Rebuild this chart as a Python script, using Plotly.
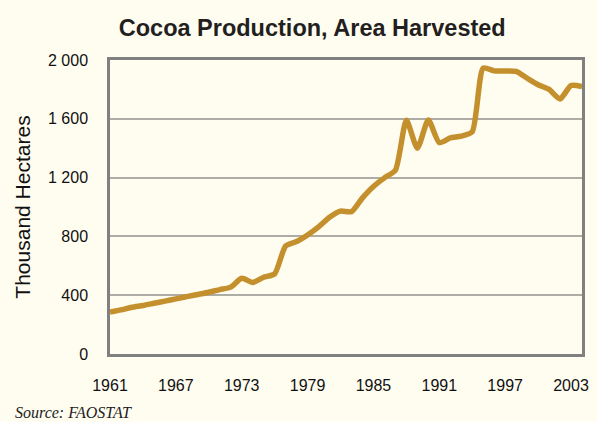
import plotly.graph_objects as go

# Cocoa area harvested, thousand hectares (FAOSTAT)
years = list(range(1961, 2005))
area_kha = [
    285, 300, 318, 330, 345, 360, 375, 390, 405, 420,
    438, 455, 515, 487, 522, 545, 735, 765, 810, 865,
    930, 972, 968, 1062, 1140, 1198, 1250, 1590, 1400, 1592,
    1438, 1470, 1482, 1512, 1945, 1926, 1925, 1922, 1876, 1832,
    1800, 1735, 1826, 1820,
]

y_tick_vals = [0, 400, 800, 1200, 1600, 2000]
y_tick_text = ["0", "400", "800", "1 200", "1 600", "2 000"]
x_tick_vals = [1961, 1967, 1973, 1979, 1985, 1991, 1997, 2003]

BG = "#FFFDF0"
LINE = "#C4902E"
GRID = "#AEADA5"
FRAME = "#808080"
SANS = "Arial"

fig = go.Figure(
    go.Scatter(
        x=years,
        y=area_kha,
        mode="lines",
        line=dict(color=LINE, width=5.5, shape="spline", smoothing=0.6),
        hoverinfo="x+y",
    )
)

fig.update_layout(
    width=597,
    height=422,
    paper_bgcolor=BG,
    plot_bgcolor=BG,
    margin=dict(l=110, r=8, t=60, b=68),
    showlegend=False,
    font=dict(family=SANS, color="#222222"),
    title=dict(
        text="<b>Cocoa Production, Area Harvested</b>",
        x=0.523,
        xanchor="center",
        y=0.935,
        yanchor="middle",
        font=dict(family=SANS, size=23.5, color="#231F20"),
    ),
    xaxis=dict(
        range=[1961, 2004],
        tickvals=x_tick_vals,
        ticks="",
        ticklabelstandoff=15,
        tickfont=dict(family=SANS, size=16, color="#111111"),
        showgrid=False,
        zeroline=False,
        showline=True,
        linecolor=FRAME,
        linewidth=2.5,
        mirror=True,
    ),
    yaxis=dict(
        range=[0, 2000],
        tickvals=y_tick_vals,
        ticktext=y_tick_text,
        ticks="",
        ticklabelstandoff=16,
        tickfont=dict(family=SANS, size=16, color="#111111"),
        showgrid=True,
        gridcolor=GRID,
        gridwidth=1.5,
        zeroline=False,
        showline=True,
        linecolor=FRAME,
        linewidth=2.5,
        mirror=True,
        title=dict(
            text="Thousand Hectares",
            font=dict(family=SANS, size=21, color="#111111"),
            standoff=12,
        ),
    ),
)

fig.add_annotation(
    text="<i>Source: FAOSTAT</i>",
    xref="paper",
    yref="paper",
    x=-0.205,
    y=-0.2,
    xanchor="left",
    yanchor="middle",
    showarrow=False,
    font=dict(family="Times New Roman", size=16, color="#222222"),
)

fig.write_html("out.html")
